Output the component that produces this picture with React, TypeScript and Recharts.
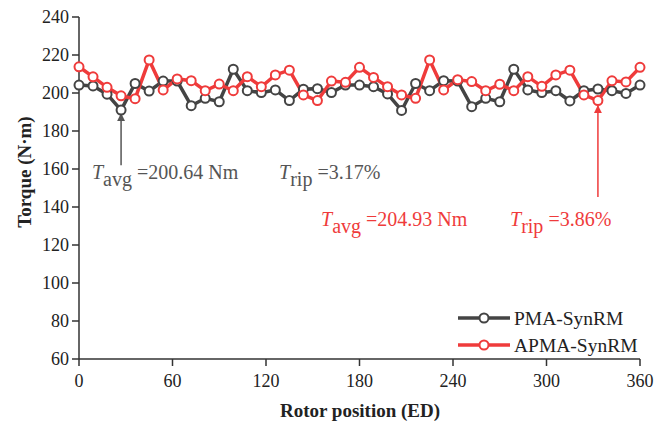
import { LineChart, Line, XAxis, YAxis, ReferenceLine, ReferenceDot } from 'recharts';

const rotorPosition = [
  0, 9, 18, 27, 36, 45, 54, 63, 72, 81, 90, 99, 108, 117, 126, 135, 144, 153, 162, 171,
  180, 189, 198, 207, 216, 225, 234, 243, 252, 261, 270, 279, 288, 297, 306, 315, 324, 333, 342, 351, 360,
];

const pmaTorque = [
  204.2, 203.7, 199.4, 191.0, 205.0, 201.0, 206.3, 206.3, 193.3, 197.2, 195.4, 212.5, 201.2, 200.2, 201.6, 196.0, 202.0, 202.3, 200.2, 204.2,
  204.2, 203.3, 199.5, 190.8, 205.0, 201.2, 206.5, 206.3, 192.8, 197.2, 195.4, 212.5, 201.6, 200.2, 201.2, 195.8, 201.2, 202.1, 201.2, 199.8, 204.2,
];

const apmaTorque = [
  213.8, 208.5, 203.0, 198.5, 197.0, 217.4, 201.6, 207.4, 206.5, 201.2, 204.7, 201.2, 208.6, 203.3, 209.5, 212.0, 199.0, 196.0, 206.3, 205.6,
  213.5, 208.2, 203.3, 199.0, 197.2, 217.4, 201.6, 207.0, 206.0, 201.2, 204.6, 201.2, 208.6, 203.5, 209.5, 212.0, 199.0, 196.0, 206.4, 205.8, 213.5,
];

const xTicks = [0, 60, 120, 180, 240, 300, 360];
const yTicks = [60, 80, 100, 120, 140, 160, 180, 200, 220, 240];

const seriesNames = ['PMA-SynRM', 'APMA-SynRM'];

const data = rotorPosition.map((deg, i) => ({ deg, pma: pmaTorque[i], apma: apmaTorque[i] }));

const GRAY = '#444444';
const RED = '#ef3b3b';
const NOTE_GRAY = '#555555';
const FONT = "'Liberation Serif', 'Times New Roman', serif";

// T with subscript, e.g. T_avg =200.64 Nm
function Note({ cx, cy, color, sub, value }: any) {
  return (
    <text x={cx} y={cy} fill={color} fontSize={20} fontFamily={FONT}>
      <tspan fontStyle="italic">T</tspan>
      <tspan dy={7}>{sub}</tspan>
      <tspan dy={-7}> ={value}</tspan>
    </text>
  );
}

function LegendRows() {
  const rows = [
    { name: seriesNames[0], color: GRAY, y: 318 },
    { name: seriesNames[1], color: RED, y: 345 },
  ];
  return (
    <g>
      {rows.map(r => (
        <g key={r.name}>
          <line x1={458} x2={510} y1={r.y} y2={r.y} stroke={r.color} strokeWidth={3.5} />
          <circle cx={484} cy={r.y} r={4.5} fill="#fff" stroke={r.color} strokeWidth={2} />
          <text x={514} y={r.y + 6.5} fontSize={19.5} fontFamily={FONT} fill="#222">{r.name}</text>
        </g>
      ))}
    </g>
  );
}

export default function App() {
  const tickStyle = { fontSize: 18, fill: '#222', fontFamily: FONT };
  return (
    <div style={{ position: 'absolute', left: 0, top: 0, background: '#fff' }}>
      <LineChart width={670} height={424} data={data} margin={{ top: 17, right: 30, left: 0, bottom: 0 }}>
        <defs>
          <marker id="arrowGray" viewBox="0 0 10 10" refX="9" refY="5" markerWidth="8" markerHeight="8" markerUnits="userSpaceOnUse" orient="auto">
            <path d="M0,0 L10,5 L0,10 z" fill={NOTE_GRAY} />
          </marker>
          <marker id="arrowRed" viewBox="0 0 10 10" refX="9" refY="5" markerWidth="8" markerHeight="8" markerUnits="userSpaceOnUse" orient="auto">
            <path d="M0,0 L10,5 L0,10 z" fill={RED} />
          </marker>
        </defs>
        <XAxis
          dataKey="deg"
          type="number"
          domain={[0, 360]}
          ticks={xTicks}
          height={65}
          tick={tickStyle}
          tickSize={7}
          tickMargin={8}
          axisLine={{ stroke: '#333', strokeWidth: 1.5 }}
          tickLine={{ stroke: '#333', strokeWidth: 1.5 }}
        />
        <YAxis
          domain={[60, 240]}
          ticks={yTicks}
          width={79}
          tick={tickStyle}
          tickSize={7}
          tickMargin={3}
          axisLine={{ stroke: '#333', strokeWidth: 1.5 }}
          tickLine={{ stroke: '#333', strokeWidth: 1.5 }}
        />
        <YAxis
          yAxisId="frame"
          orientation="right"
          domain={[60, 240]}
          width={0}
          tick={false}
          tickLine={false}
          axisLine={{ stroke: '#333', strokeWidth: 1.5 }}
        />
        <Line
          dataKey="pma"
          name={seriesNames[0]}
          stroke={GRAY}
          strokeWidth={3.5}
          dot={{ r: 4.5, fill: '#fff', stroke: GRAY, strokeWidth: 2 }}
          isAnimationActive={false}
        />
        <Line
          dataKey="apma"
          name={seriesNames[1]}
          stroke={RED}
          strokeWidth={3.5}
          dot={{ r: 4.5, fill: '#fff', stroke: RED, strokeWidth: 2 }}
          isAnimationActive={false}
        />
        <ReferenceLine
          segment={[{ x: 27, y: 162 }, { x: 27, y: 189 }]}
          stroke={NOTE_GRAY}
          strokeWidth={1.5}
          markerEnd="url(#arrowGray)"
        />
        <ReferenceLine
          segment={[{ x: 333, y: 145.3 }, { x: 333, y: 193.2 }]}
          stroke={RED}
          strokeWidth={1.5}
          markerEnd="url(#arrowRed)"
        />
        <ReferenceDot x={8.3} y={154.7} shape={(p: any) => <Note {...p} color={NOTE_GRAY} sub="avg" value="200.64 Nm" />} />
        <ReferenceDot x={128.4} y={154.7} shape={(p: any) => <Note {...p} color={NOTE_GRAY} sub="rip" value="3.17%" />} />
        <ReferenceDot x={155.3} y={130} shape={(p: any) => <Note {...p} color={RED} sub="avg" value="204.93 Nm" />} />
        <ReferenceDot x={276.6} y={130} shape={(p: any) => <Note {...p} color={RED} sub="rip" value="3.86%" />} />
        <LegendRows />
        <text x={360} y={417} textAnchor="middle" fontSize={19} fontWeight="bold" fontFamily={FONT} fill="#222">
          Rotor position (ED)
        </text>
        <text x={31} y={172} textAnchor="middle" fontSize={19} fontWeight="bold" fontFamily={FONT} fill="#222" transform="rotate(-90 31 172)">
          Torque (N·m)
        </text>
      </LineChart>
    </div>
  );
}
